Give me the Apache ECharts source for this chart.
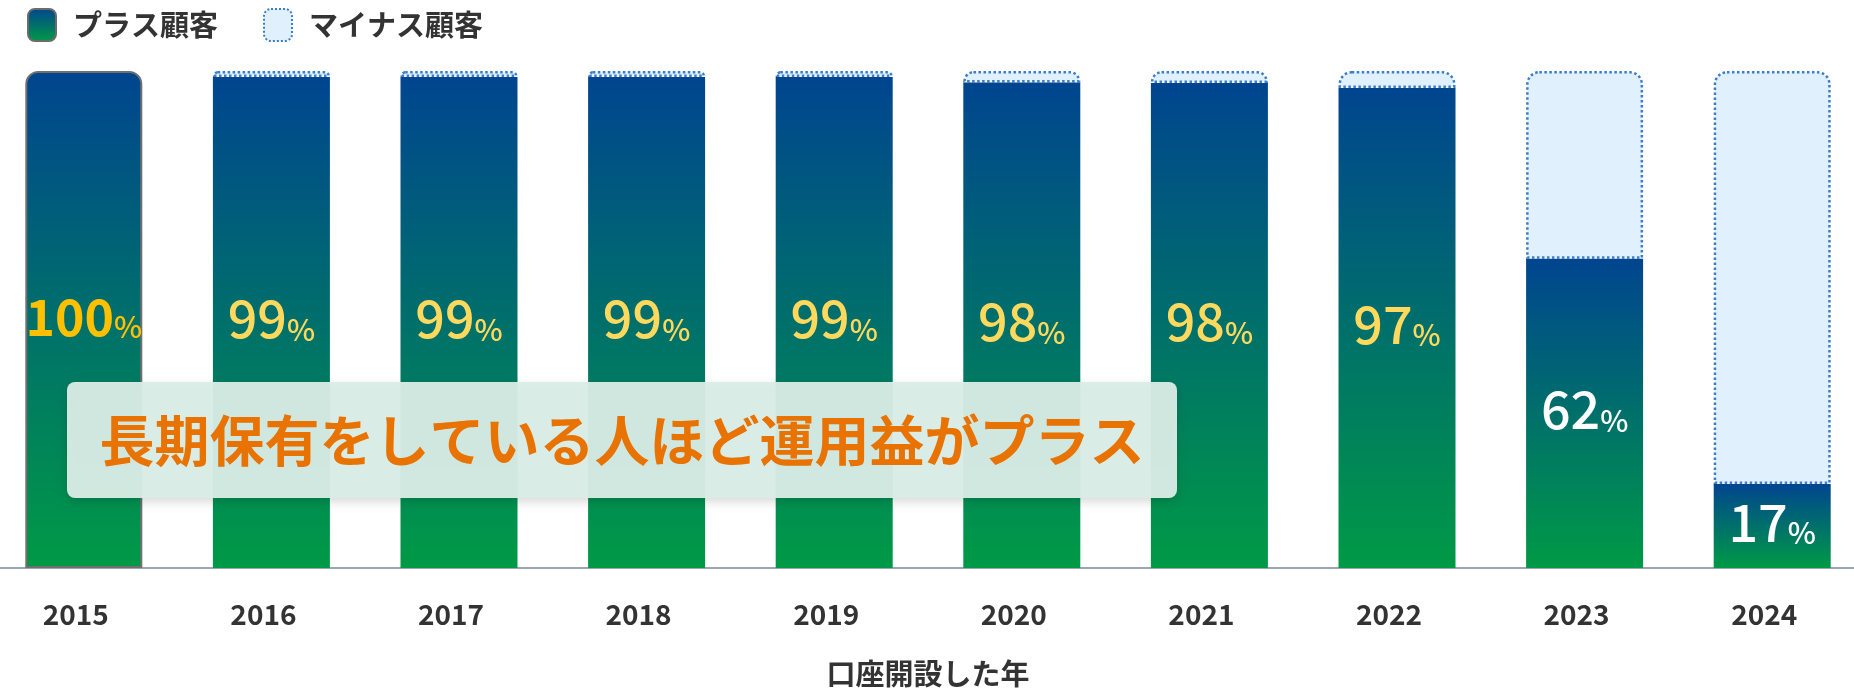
<!DOCTYPE html>
<html>
<head>
<meta charset="utf-8">
<script src="https://cdn.jsdelivr.net/npm/echarts@6/dist/echarts.min.js"></script>
<style>
    html, body { margin: 0; padding: 0; background: #fff; overflow: hidden; }
    #chart { width: 1876px; height: 693px; margin-left: -10px; }
</style>
</head>
<body>
<div id="chart"></div>
<script>
const years = ['2015', '2016', '2017', '2018', '2019', '2020', '2021', '2022', '2023', '2024']
// bar heights (%)
const plusValues = [100, 98.8, 98.8, 98.8, 98.8, 97.7, 97.6, 96.6, 62.2, 16.9]
const minusValues = [0, 1.2, 1.2, 1.2, 1.2, 2.3, 2.4, 3.4, 37.8, 83.1]
// printed labels
const plusLabels = ['100', '99', '99', '99', '99', '98', '98', '97', '62', '17']

const FONT = '"Noto Sans CJK JP", "Noto Sans", sans-serif'
// the chart div starts 10px left of the page
const OFF = 10
const plusGradient = () => new echarts.graphic.LinearGradient(0, 0, 0, 1, [
    { offset: 0, color: '#00458f' },
    { offset: 1, color: '#009a46' }
])

const labelColor = (i) => {
    if (i === 0) return '#ffc000'
    if (plusValues[i] < 80) return '#ffffff'
    return '#ffd95e'
}

let chart = echarts.init(document.getElementById('chart'))

const plusData = plusValues.map((v, i) => {
    let item = {
        value: v,
        label: {
            formatter: `{n|${plusLabels[i]}}{p|%}`,
            rich: {
                n: { fontSize: i === 0 ? 50 : 52, fontWeight: i === 0 ? 'bold' : 500, color: labelColor(i), fontFamily: FONT, verticalAlign: 'bottom', lineHeight: 56 },
                p: { fontSize: 30, fontWeight: 500, color: labelColor(i), fontFamily: FONT, verticalAlign: 'bottom', lineHeight: 50 }
            }
        }
    }
    if (i === 0) {
        item.itemStyle = { borderColor: '#707070', borderWidth: 2, borderRadius: [12, 12, 0, 0] }
    }
    return item
})

const minusData = minusValues.map(v => {
    if (v === 0) return { value: v, itemStyle: { borderWidth: 0 } }
    return v
})

chart.setOption({
    animation: false,
    textStyle: { fontFamily: FONT },
    legend: {
        left: 27 + OFF,
        top: 8,
        padding: 0,
        itemWidth: 28,
        itemHeight: 32,
        itemGap: 45,
        icon: 'roundRect',
        textStyle: { fontSize: 29, fontWeight: 'bold', color: '#333', fontFamily: FONT, padding: [0, 0, 0, 12] },
        data: [
            { name: 'プラス顧客', itemStyle: { color: plusGradient(), borderColor: '#6b6b6b', borderWidth: 2 } },
            { name: 'マイナス顧客', itemStyle: { color: '#e0f0fd', borderColor: '#3b7dc8', borderWidth: 2, borderType: 'dotted' } }
        ]
    },
    grid: {
        left: 0,
        right: 0,
        top: 71,
        bottom: 124
    },
    xAxis: {
        type: 'category',
        data: years,
        name: '口座開設した年',
        nameLocation: 'middle',
        nameGap: 91,
        nameTextStyle: { fontSize: 29, fontWeight: 'bold', color: '#333', fontFamily: FONT },
        axisLine: { lineStyle: { color: '#9aa6b2', width: 2 } },
        axisTick: { show: false },
        axisLabel: {
            fontSize: 28,
            fontWeight: 'bold',
            color: '#333',
            fontFamily: FONT,
            margin: 32,
            padding: [0, 16, 0, 0]
        }
    },
    yAxis: {
        type: 'value',
        min: 0,
        max: 100,
        show: false
    },
    series: [
        {
            name: 'プラス顧客',
            type: 'bar',
            stack: 'total',
            barWidth: 117,
            z: 3,
            itemStyle: { color: plusGradient() },
            label: { show: true, position: 'inside', offset: [0, -6] },
            data: plusData
        },
        {
            name: 'マイナス顧客',
            type: 'bar',
            stack: 'total',
            barWidth: 117,
            z: 2,
            itemStyle: {
                color: '#e0f0fd',
                borderColor: '#3b7dc8',
                borderWidth: 2.5,
                borderType: 'dotted',
                borderRadius: [12, 12, 0, 0]
            },
            data: minusData
        }
    ],
    graphic: [
        {
            type: 'rect',
            z: 10,
            shape: { x: 67 + OFF, y: 382, width: 1110, height: 116, r: 8 },
            style: {
                fill: 'rgba(217,236,229,0.96)',
                shadowBlur: 10,
                shadowOffsetY: 4,
                shadowColor: 'rgba(0,0,0,0.15)'
            }
        },
        {
            type: 'text',
            z: 11,
            x: 622 + OFF,
            y: 440,
            style: {
                text: '長期保有をしている人ほど運用益がプラス',
                fontSize: 55,
                fontWeight: 'bold',
                fontFamily: FONT,
                fill: '#e87300',
                align: 'center',
                verticalAlign: 'middle'
            }
        }
    ]
})

window.onresize = function () {
    chart.resize();
};
</script>
</body>
</html>
